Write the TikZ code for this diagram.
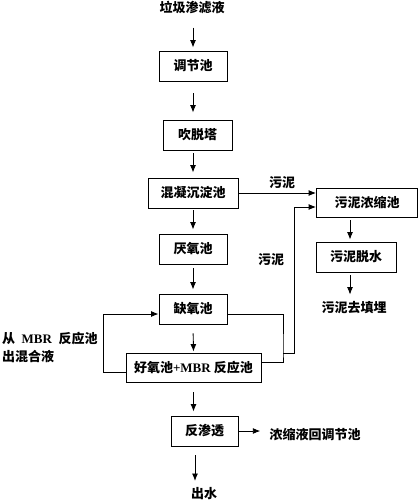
\documentclass[tikz,border=0pt]{standalone}
\usepackage{fontspec}
\setmainfont{Liberation Serif}
\newfontfamily\cjk{Noto Sans CJK SC}
\usetikzlibrary{arrows.meta}
\begin{document}
\begin{tikzpicture}[x=1pt,y=-1pt,
  box/.style={draw,line width=0.9pt,minimum height=30pt,inner sep=0pt,font=\fontsize{13}{13}\selectfont\bfseries},
  lbl/.style={inner sep=0pt,font=\fontsize{13}{13}\selectfont\bfseries},
  arr/.style={line width=0.9pt,-{Latex[length=7.5pt,width=6pt]}},
  ln/.style={line width=0.9pt}]
\useasboundingbox (0,0) rectangle (419,500);
\node[lbl] (src) at (192,8) {\cjk 垃圾渗滤液};
\node[box,minimum width=68pt] (tj) at (193,66) {\cjk 调节池};
\node[box,minimum width=69pt] (ct) at (197.5,135) {\cjk 吹脱塔};
\node[box,minimum width=90pt] (hn) at (193,193) {\cjk 混凝沉淀池};
\node[box,minimum width=68pt] (ya) at (193,249) {\cjk 厌氧池};
\node[box,minimum width=68pt] (qy) at (193,309) {\cjk 缺氧池};
\node[box,minimum width=135pt,minimum height=29pt] (hy) at (193.5,367.5) {{\cjk 好氧池}+MBR {\cjk 反应池}};
\node[box,minimum width=67pt] (rs) at (204.5,431) {\cjk 反渗透};
\node[lbl] (cs) at (204,494) {\cjk 出水};
\node[lbl] (nh) at (315,435) {\cjk 浓缩液回调节池};
\node[box,minimum width=101pt,minimum height=29pt] (ws) at (367,202.5) {\cjk 污泥浓缩池};
\node[box,minimum width=80pt] (tu) at (356,257) {\cjk 污泥脱水};
\node[lbl] (tm) at (354,308) {\cjk 污泥去填埋};
\node[lbl] (s1) at (282,183) {\cjk 污泥};
\node[lbl] (s2) at (271,260) {\cjk 污泥};
\node[lbl,anchor=west] (m1) at (2,339) {{\cjk 从}\ \ MBR\ \ {\cjk 反应池}};
\node[lbl,anchor=west] (m2) at (2,357) {\cjk 出混合液};
% main vertical arrows
\draw[arr,shorten <=13pt,shorten >=3pt] (src.south -| tj.north) -- (tj.north);
\draw[arr,shorten <=12pt,shorten >=7pt] (tj.south) -- (tj.south |- ct.north);
\draw[arr,shorten <=3pt,shorten >=5pt] (tj.south |- ct.south) -- (hn.north);
\draw[arr,shorten <=2pt,shorten >=4pt] (hn.south) -- (ya.north);
\draw[arr,shorten <=4pt,shorten >=4pt] (ya.south) -- (qy.north);
\draw[arr,shorten <=9pt,shorten >=1pt] (qy.south) -- (hy.north);
\draw[arr,shorten <=10pt,shorten >=4pt] (hy.south) -- (hy.south |- rs.north);
\draw[arr,shorten <=9pt,shorten >=13pt] ([xshift=-9.5pt]rs.south) -- ([xshift=-9.5pt]rs.south |- cs.center);
\draw[arr,shorten >=9pt] (rs.east) -- (rs.east -| nh.west);
% sludge line
\draw[arr] (hn.east) -- (hn.east -| ws.west);
\draw[arr,shorten <=3pt,shorten >=2pt] (ws.south -| 350,0) -- (tu.north -| 350,0);
\draw[arr,shorten <=3pt,shorten >=7pt] (tu.south -| 350,0) -- (tm.north -| 350,0);
% recycle loops
\draw[arr] ([yshift=-4.5pt]hy.west) -| (103,314) -- ([yshift=-5pt]qy.west);
\draw[ln] ([yshift=-5pt]qy.east) -| (283,353) |- ([yshift=5.5pt]hy.east);
\coordinate (j) at (283,353);
\draw[arr] (j) -| (294,207) -- ([yshift=-4.5pt]ws.west);
\end{tikzpicture}
\end{document}
